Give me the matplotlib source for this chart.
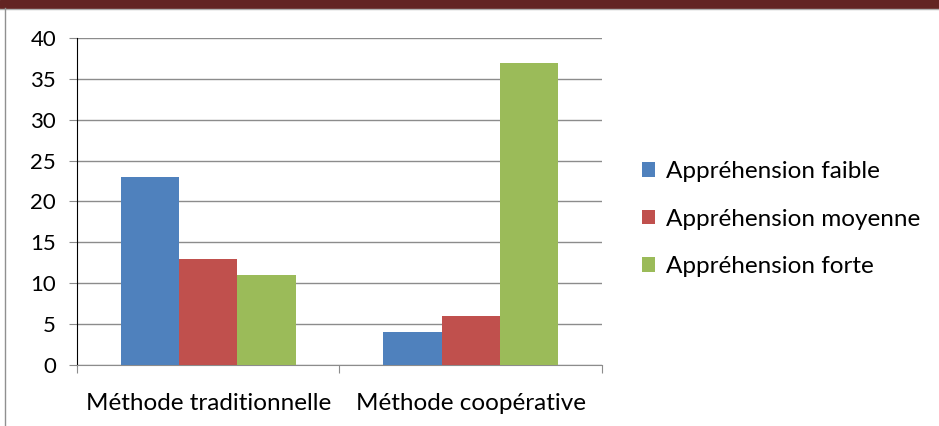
import numpy as np
import matplotlib as mpl
import matplotlib.pyplot as plt
from matplotlib.patches import Rectangle
from matplotlib.lines import Line2D

mpl.use('Agg')
plt.rcParams['font.family'] = ['Lato', 'DejaVu Sans']

categories = ["Méthode traditionnelle", "Méthode coopérative"]
series = ["Appréhension faible", "Appréhension moyenne", "Appréhension forte"]
faible = [23, 4]
moyenne = [13, 6]
forte = [11, 37]
colors = ["#4F81BD", "#C0504D", "#9BBB59"]

fig = plt.figure(figsize=(9.39, 4.26), dpi=100)
ax = fig.add_axes([0.082, 0.1432, 0.559, 0.7676])

x = np.arange(len(categories))
w = 0.222
for i, (vals, name) in enumerate(zip([faible, moyenne, forte], series)):
    ax.bar(x + (i - 1) * w, vals, w, color=colors[i], label=name, zorder=3)

ax.set_xlim(-0.5, 1.5)
ax.set_ylim(0, 40)
ax.set_yticks(range(0, 41, 5))
ax.yaxis.grid(True, color="#8c8c8c", linewidth=1, zorder=0)
ax.set_xticks([-0.5, 0.5, 1.5])
ax.set_xticklabels([])
ax.set_xticks(x, minor=True)
ax.set_xticklabels(categories, minor=True)
ax.tick_params(axis='x', which='minor', length=0, pad=20, labelsize=17.5)
ax.tick_params(axis='x', which='major', length=6, color="#8c8c8c")
ax.tick_params(axis='y', length=6, color="#8c8c8c", labelsize=16, pad=9)
for s in ['top', 'right']:
    ax.spines[s].set_visible(False)
ax.spines['left'].set_color("black")
ax.spines['bottom'].set_color("#8c8c8c")

ax.legend(loc='center left', bbox_to_anchor=(1.0 + 40 / 525, 0.446), frameon=False,
          fontsize=17.5, handlelength=0.55, handleheight=0.55, handletextpad=0.45,
          labelspacing=1.1, borderaxespad=0, borderpad=0)

# page decoration: dark band on top and frame lines
fig.patches.append(Rectangle((0, 1 - 8 / 426), 1, 8 / 426, transform=fig.transFigure,
                             color="#632423", zorder=0))
fig.lines.append(Line2D([0, 1], [1 - 9 / 426] * 2, transform=fig.transFigure,
                        color="#b0b0b0", linewidth=1))
fig.lines.append(Line2D([5 / 939] * 2, [0, 1 - 8 / 426], transform=fig.transFigure,
                        color="#909090", linewidth=1))

fig.savefig("out.png", dpi=100)
